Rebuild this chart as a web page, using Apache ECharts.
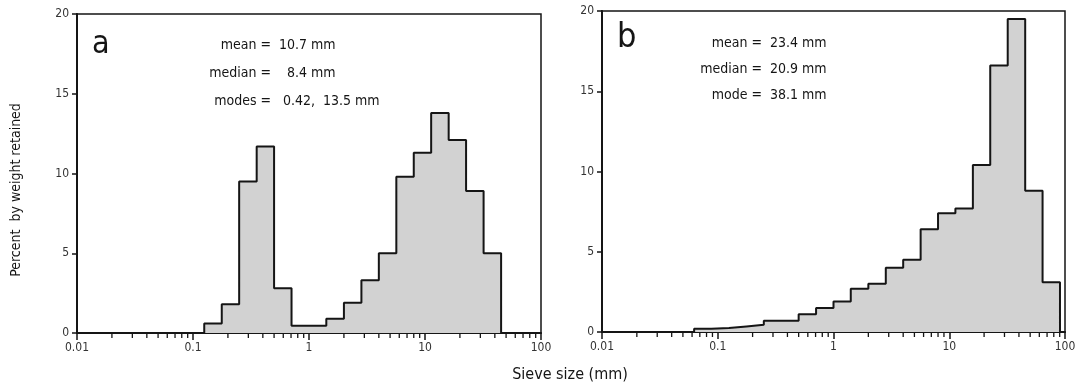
<!DOCTYPE html>
<html>
<head>
<meta charset="utf-8">
<script src="https://cdn.jsdelivr.net/npm/echarts@6/dist/echarts.min.js"></script>
<style>
  html, body { margin: 0; padding: 0; background: #fff; }
  #chart { width: 1088px; height: 388px; }
</style>
</head>
<body>
<div id="chart"></div>
<script>
// half-phi sieve edges (mm)
const edgesA = [0.125, 0.177, 0.25, 0.354, 0.5, 0.707, 1, 1.41, 2, 2.83, 4, 5.66, 8, 11.3, 16, 22.6, 32, 45.3]
const valuesA = [0.6, 1.8, 9.5, 11.7, 2.8, 0.45, 0.45, 0.9, 1.9, 3.3, 5.0, 9.8, 11.3, 13.8, 12.1, 8.9, 5.0]

const edgesB = [0.0625, 0.088, 0.125, 0.177, 0.25, 0.354, 0.5, 0.707, 1, 1.41, 2, 2.83, 4, 5.66, 8, 11.3, 16, 22.6, 32, 45.3, 64, 90.5]
const valuesB = [0.2, 0.25, 0.35, 0.45, 0.7, 0.7, 1.1, 1.5, 1.9, 2.7, 3.0, 4.0, 4.5, 6.4, 7.4, 7.7, 10.4, 16.6, 19.5, 8.8, 3.1]

const yTicks = [0, 5, 10, 15, 20]
const xTickLabels = ['0.01', '0.1', '1', '10', '100']
const minorTicks = [0.02, 0.03, 0.04, 0.05, 0.06, 0.07, 0.08, 0.09,
  0.2, 0.3, 0.4, 0.5, 0.6, 0.7, 0.8, 0.9,
  2, 3, 4, 5, 6, 7, 8, 9,
  20, 30, 40, 50, 60, 70, 80, 90]

const statsA = [['mean =', '10.7 mm'], ['median =', '  8.4 mm'], ['modes =', ' 0.42,  13.5 mm']]
const statsB = [['mean =', '23.4 mm'], ['median =', '20.9 mm'], ['mode =', '38.1 mm']]

const font = '"DejaVu Sans Condensed", "Liberation Sans Narrow", "DejaVu Sans", sans-serif'
const ink = '#151515'

function stepData(edges, values) {
  const pts = [[edges[0], 0]]
  values.forEach((v, i) => pts.push([edges[i], v]))
  pts.push([edges[values.length], 0])
  return pts
}

function xAxis(gridIndex) {
  return {
    type: 'log',
    logBase: 10,
    gridIndex: gridIndex,
    min: 0.01,
    max: 100,
    axisLine: { show: true, lineStyle: { color: ink, width: 2 } },
    axisTick: { show: true, length: 7, lineStyle: { color: ink, width: 1.5 } },
    splitLine: { show: false },
    axisLabel: {
      color: '#333',
      fontFamily: font,
      fontSize: 12,
      margin: 9,
      formatter: v => {
        const i = Math.round(Math.log10(v)) + 2
        return xTickLabels[i] ?? ''
      }
    }
  }
}

function yAxis(gridIndex) {
  return {
    type: 'value',
    gridIndex: gridIndex,
    min: yTicks[0],
    max: yTicks[yTicks.length - 1],
    interval: 5,
    axisLine: { show: true, lineStyle: { color: ink, width: 2 } },
    axisTick: { show: true, length: 5, lineStyle: { color: ink, width: 1.5 } },
    splitLine: { show: false },
    axisLabel: { color: '#333', fontFamily: font, fontSize: 12, margin: 8 }
  }
}

function histSeries(idx, edges, values) {
  return {
    type: 'line',
    xAxisIndex: idx,
    yAxisIndex: idx,
    step: 'end',
    symbol: 'none',
    data: stepData(edges, values),
    lineStyle: { color: ink, width: 2 },
    areaStyle: { color: '#d2d2d2', opacity: 1 },
    z: 3
  }
}

function tickSeries(idx) {
  return {
    type: 'custom',
    xAxisIndex: idx,
    yAxisIndex: idx,
    data: minorTicks,
    clip: false,
    silent: true,
    renderItem: (params, api) => {
      const p = api.coord([api.value(0), 0])
      return {
        type: 'line',
        shape: { x1: p[0], y1: p[1], x2: p[0], y2: p[1] + 5 },
        style: { stroke: ink, lineWidth: 1.3 }
      }
    },
    encode: { x: 0 },
    z: 4
  }
}

function statsText(stats, eqX, top, lineH) {
  const out = []
  stats.forEach((s, i) => {
    const y = top + i * lineH
    out.push({ type: 'text', x: eqX, y: y,
      style: { text: s[0], fontFamily: font, fontSize: 14, fill: ink, textAlign: 'right', textVerticalAlign: 'middle' } })
    out.push({ type: 'text', x: eqX + 8, y: y,
      style: { text: s[1], fontFamily: font, fontSize: 14, fill: ink, textAlign: 'left', textVerticalAlign: 'middle' } })
  })
  return out
}

const chart = echarts.init(document.getElementById('chart'), null, { renderer: 'canvas' })

chart.setOption({
  backgroundColor: '#fff',
  animation: false,
  grid: [
    { left: 77, right: 547, top: 14, bottom: 55, show: true, borderColor: ink, borderWidth: 1.5 },
    { left: 602, right: 23, top: 11, bottom: 56, show: true, borderColor: ink, borderWidth: 1.5 }
  ],
  xAxis: [xAxis(0), xAxis(1)],
  yAxis: [yAxis(0), yAxis(1)],
  series: [
    histSeries(0, edgesA, valuesA),
    histSeries(1, edgesB, valuesB),
    tickSeries(0),
    tickSeries(1)
  ],
  graphic: [
    { type: 'text', x: 92, y: 45,
      style: { text: 'a', fontFamily: font, fontSize: 32, fill: ink, textVerticalAlign: 'middle' } },
    { type: 'text', x: 617, y: 38,
      style: { text: 'b', fontFamily: font, fontSize: 34, fill: ink, textVerticalAlign: 'middle' } },
    ...statsText(statsA, 271, 45, 28),
    ...statsText(statsB, 762, 43, 26),
    { type: 'text', x: 16, y: 190, rotation: Math.PI / 2,
      style: { text: 'Percent  by weight retained', fontFamily: font, fontSize: 14, fill: ink,
        textAlign: 'center', textVerticalAlign: 'middle' } },
    { type: 'text', x: 570, y: 375,
      style: { text: 'Sieve size (mm)', fontFamily: font, fontSize: 16, fill: ink,
        textAlign: 'center', textVerticalAlign: 'middle' } }
  ]
})

window.addEventListener('resize', () => chart.resize())
</script>
</body>
</html>
